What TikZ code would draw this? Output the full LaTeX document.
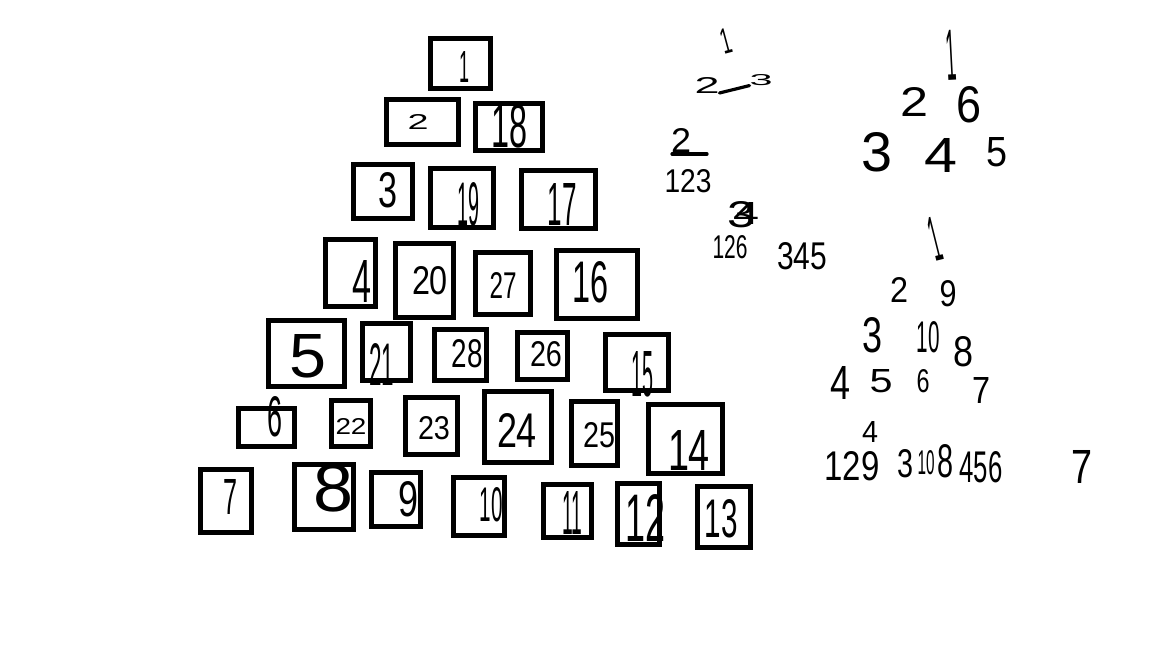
\documentclass[tikz,border=0pt]{standalone}
\usepackage{fontspec}
\setmainfont{Liberation Sans}
\newlength\ppx
\setlength\ppx{0.5pt}
\tikzset{
  boxst/.style={draw=black, line width=2.5pt, fill=none, inner sep=0pt, outer sep=0pt},
  lblst/.style={inner sep=0pt, outer sep=0pt, text=black},
  strokest/.style={draw=black, line width=1.6pt, line cap=round}
}
% box: name, x1, y1, x2, y2 (outer pixel extents)
\newcommand\bx[5]{\node[boxst, minimum width={(#4-#2-5)*0.5pt}, minimum height={(#5-#3-5)*0.5pt}] (#1) at ({(#2+#4)/2},{(#3+#5)/2}) {};}
% label: [options] name, cx, cy, width px, height px, text
\newcommand\lb[7][]{\node[lblst,#1] (#2) at (#3,#4) {\resizebox{#5\ppx}{#6\ppx}{#7}};}
\begin{document}
\begin{tikzpicture}[x=0.5pt,y=-0.5pt]
\useasboundingbox[fill=white] (0,0) rectangle (1152,648);
% ---- boxes ----
\bx{b1}{428}{36}{493}{91}
\bx{b2}{384}{97}{461}{147}
\bx{b18}{473}{101}{545}{153}
\bx{b3}{351}{162}{415}{221}
\bx{b19}{428}{166}{496}{230}
\bx{b17}{519}{168}{598}{231}
\bx{b4}{323}{237}{378}{309}
\bx{b20}{393}{241}{456}{320}
\bx{b27}{473}{250}{533}{317}
\bx{b16}{554}{248}{640}{321}
\bx{b5}{266}{318}{347}{389}
\bx{b21}{360}{321}{413}{383}
\bx{b28}{432}{327}{489}{383}
\bx{b26}{515}{330}{570}{382}
\bx{b15}{603}{332}{671}{393}
\bx{b6}{236}{406}{297}{449}
\bx{b22}{329}{398}{373}{449}
\bx{b23}{403}{395}{460}{457}
\bx{b24}{482}{389}{554}{465}
\bx{b25}{569}{399}{620}{468}
\bx{b14}{646}{402}{725}{476}
\bx{b7}{198}{467}{254}{535}
\bx{b8}{292}{462}{356}{532}
\bx{b9}{369}{470}{423}{529}
\bx{b10}{451}{475}{507}{538}
\bx{b11}{541}{482}{594}{540}
\bx{b12}{615}{481}{662}{547}
\bx{b13}{695}{484}{753}{550}
% ---- box labels ----
\lb{t1}{464}{67}{10}{31}{1}
\lb{t2}{418}{122}{21}{15}{2}
\lb{t18}{509}{126}{36}{43}{18}
\lb{t3}{388}{190}{19}{35}{3}
\lb{t19}{468}{204}{22}{43}{19}
\lb{t17}{562}{204}{29}{42}{17}
\lb{t4}{362}{281}{19}{42}{4}
\lb{t20}{430}{281}{36}{28}{20}
\lb{t27}{503}{285}{27}{26}{27}
\lb{t16}{590}{282}{36}{41}{16}
\lb{t5}{308}{356}{37}{43}{5}
\lb{t21}{382}{364}{25}{42}{21}
\lb{t28}{467}{354}{31}{28}{28}
\lb{t26}{546}{354}{32}{25}{26}
\lb{t15}{642}{374}{22}{45}{15}
\lb{t6}{275}{417}{15}{40}{6}
\lb{t22}{351}{426}{31}{16}{22}
\lb{t23}{434}{428}{32}{23}{23}
\lb{t24}{517}{430}{40}{34}{24}
\lb{t25}{599}{435}{32}{25}{25}
\lb{t14}{689}{450}{42}{40}{14}
\lb{t7}{230}{497}{14}{35}{7}
\lb{t8}{333}{488}{40}{47}{8}
\lb{t9}{408}{499}{20}{35}{9}
\lb{t10}{491}{505}{23}{34}{10}
\lb{t11}{572}{513}{20}{43}{11}
\lb{t12}{645}{518}{40}{47}{12}
\lb{t13}{721}{519}{33}{38}{13}
% ---- notes, left column ----
\lb[rotate=15]{r1}{726}{41}{10}{25}{1}
\lb{r2}{707}{85}{25}{16}{2}
\lb{r3}{761}{80}{23}{11}{3}
\draw[strokest] (r2.south east) -- (r3.south west);
\lb{s2}{681}{140}{20}{24}{2}
\coordinate (u1) at (672,154);
\coordinate (u2) at (707,154);
\draw[strokest] (u1) -- (u2);
\lb{s123}{688}{181}{47}{23}{123}
\lb{s3}{741}{215}{28}{26}{3}
\lb{s4}{746}{213}{26}{22}{4}
\lb{s126}{730}{247}{35}{23}{126}
\lb{s345}{802}{256}{50}{27}{345}
% ---- notes, upper tree ----
\lb[rotate=3]{T1}{951}{55}{10}{50}{1}
\lb{T2}{914}{102}{28}{29}{2}
\lb{T6}{969}{105}{25}{36}{6}
\lb{T3}{877}{152}{31}{39}{3}
\lb{T4}{941}{155}{33}{34}{4}
\lb{T5}{997}{152}{21}{29}{5}
% ---- notes, lower tree ----
\lb[rotate=14]{U1}{935}{239}{10}{44}{1}
\lb{U2}{899}{290}{18}{25}{2}
\lb{U9}{948}{294}{17}{26}{9}
\lb{U3}{872}{335}{20}{35}{3}
\lb{U10}{928}{337}{23}{31}{10}
\lb{U8}{963}{352}{20}{30}{8}
\lb{U4}{840}{383}{20}{33}{4}
\lb{U5}{881}{381}{23}{23}{5}
\lb{U6}{923}{381}{13}{23}{6}
\lb{U7}{981}{390}{18}{26}{7}
% ---- notes, last line ----
\lb{V4}{870}{432}{16}{21}{4}
\lb{V129}{852}{466}{55}{29}{129}
\lb{V3}{905}{464}{16}{28}{3}
\lb{V10}{926}{463}{17}{24}{10}
\lb{V8}{945}{461}{16}{33}{8}
\lb{V456}{981}{467}{43}{31}{456}
\lb{V7}{1082}{467}{21}{33}{7}
\end{tikzpicture}
\end{document}
